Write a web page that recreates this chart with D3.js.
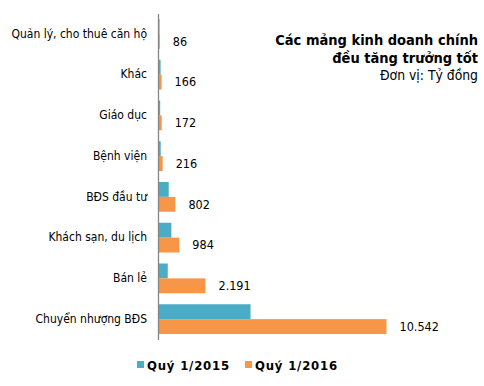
<!DOCTYPE html>
<html>
<head>
<meta charset="utf-8">
<script src="https://cdn.jsdelivr.net/npm/d3@7"></script>
<style>
  body { margin: 0; background: #fff; }
  text { font-family: Tahoma, "DejaVu Sans Condensed", "Liberation Sans", sans-serif; fill: #000; }
</style>
</head>
<body>
<script>
const categories = ["Quản lý, cho thuê căn hộ", "Khác", "Giáo dục", "Bệnh viện", "BĐS đầu tư", "Khách sạn, du lịch", "Bán lẻ", "Chuyển nhượng BĐS"];
const q2015 = [70, 120, 100, 125, 495, 617, 450, 4270];
const q2016 = [86, 166, 172, 216, 802, 984, 2191, 10542];
const valueLabels = ["86", "166", "172", "216", "802", "984", "2.191", "10.542"];
const seriesNames = ["Quý 1/2015", "Quý 1/2016"];
const colours = ["#4BACC6", "#F79646"];

const width = 484, height = 386;
const svg = d3.select("body").append("svg").attr("width", width).attr("height", height);

const x = d3.scaleLinear().domain([0, 10542]).range([158, 386.5]);
const y = d3.scaleBand().domain(categories).range([13.5, 339.5]).paddingInner(0.27).paddingOuter(0.135);
const sub = d3.scaleBand().domain([0, 1]).range([0, y.bandwidth()]);

const groups = svg.selectAll("g.cat").data(categories).join("g")
    .attr("transform", d => `translate(0,${y(d)})`);

[q2015, q2016].forEach((vals, s) => {
  groups.append("rect")
    .attr("x", x(0))
    .attr("y", sub(s))
    .attr("width", (d, i) => x(vals[i]) - x(0))
    .attr("height", sub.bandwidth())
    .attr("fill", colours[s]);
});

groups.append("text")
  .attr("x", (d, i) => x(q2016[i]) + 13)
  .attr("y", sub(1) + sub.bandwidth() / 2)
  .attr("dy", "0.35em")
  .style("font-size", "12.5px")
  .text((d, i) => valueLabels[i]);

// category axis
const axis = svg.append("g").attr("transform", `translate(${x(0)},0)`)
  .call(d3.axisLeft(y).tickSize(0).tickPadding(11));
axis.select(".domain").attr("stroke", "#868686").attr("stroke-width", 1.3);
axis.selectAll(".tick text").style("font-size", "12px").style("font-family", null);

// title
const title = svg.append("text").attr("text-anchor", "end");
title.append("tspan").attr("x", 478).attr("y", 45).style("font-weight", "bold").style("font-size", "14.5px").text("Các mảng kinh doanh chính");
title.append("tspan").attr("x", 478).attr("y", 62.5).style("font-weight", "bold").style("font-size", "14.5px").text("đều tăng trưởng tốt");
title.append("tspan").attr("x", 478).attr("y", 80).style("font-size", "13.8px").text("Đơn vị: Tỷ đồng");

// legend
const legend = svg.append("g").selectAll("g").data(seriesNames).join("g")
  .attr("transform", (d, i) => `translate(${[137, 245][i]},361)`);
legend.append("rect").attr("width", 7).attr("height", 7).attr("fill", (d, i) => colours[i]);
legend.append("text").attr("x", 10).attr("y", 9)
  .style("font-weight", "bold").style("font-size", "13px").style("letter-spacing", "0.8px")
  .text(d => d);
</script>
</body>
</html>
